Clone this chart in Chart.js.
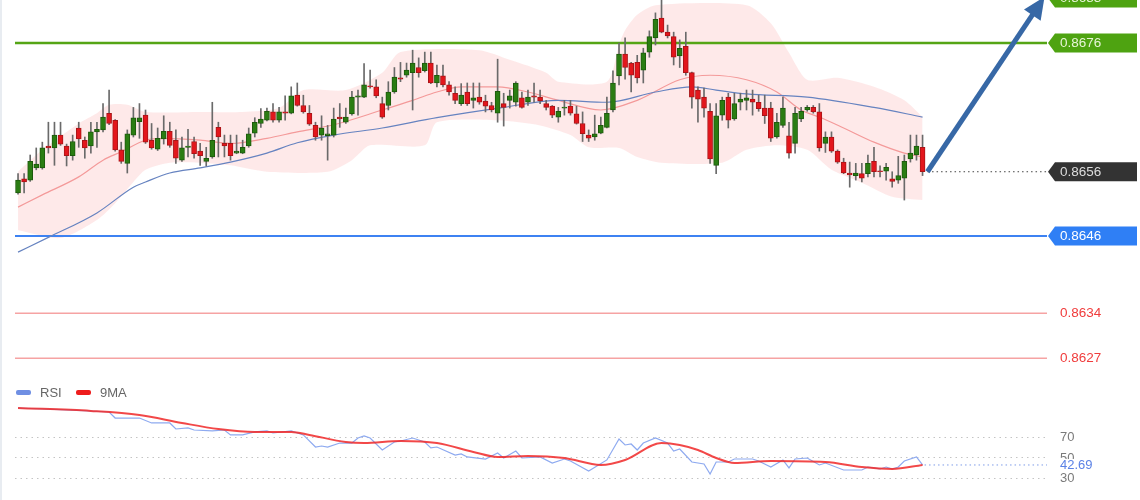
<!DOCTYPE html>
<html>
<head>
<meta charset="utf-8">
<script src="https://cdn.jsdelivr.net/npm/chart.js@4.4.1/dist/chart.umd.min.js"></script>
<style>
    html, body { margin: 0; padding: 0; background: #fff; }
    body { width: 1140px; height: 500px; overflow: hidden; position: relative; }
    #price-chart { position: absolute; left: 0; top: 0; }
    #rsi-chart { position: absolute; left: 0; top: 375px; }
    .edge { position: absolute; left: 0; top: 0; width: 2px; height: 500px; background: #e8ecf1; }
</style>
</head>
<body>
<canvas id="price-chart" width="1140" height="375"></canvas>
<canvas id="rsi-chart" width="1140" height="125"></canvas>
<div class="edge"></div>
<script>
// ---- data ----
const SLOTS = 170; // candle slots incl. empty space on the right

const opens = [
    .86527, .86549, .86547, .86566, .86566, .86600, .86597, .86617, .86600, .86585,
    .86628, .86609, .86600, .86622, .86625, .86651, .86640, .86594, .86573, .86617,
    .86638, .86648, .86609, .86595, .86611, .86623, .86609, .86578, .86598, .86607,
    .86592, .86576, .86583, .86629, .86604, .86604, .86589, .86589, .86600, .86620,
    .86635, .86640, .86653, .86640, .86653, .86651, .86679, .86663, .86651, .86632,
    .86617, .86616, .86617, .86645, .86637, .86650, .86676, .86676, .86693, .86692,
    .86666, .86663, .86684, .86706, .86710, .86714, .86722, .86717, .86729, .86698,
    .86709, .86695, .86682, .86666, .86684, .86671, .86676, .86670, .86663, .86651,
    .86666, .86671, .86668, .86675, .86668, .86678, .86676, .86666, .86662, .86645,
    .86659, .86662, .86650, .86635, .86617, .86614, .86620, .86629, .86656, .86709,
    .86743, .86729, .86730, .86718, .86746, .86768, .86799, .86777, .86770, .86740,
    .86755, .86714, .86687, .86676, .86654, .86570, .86648, .86676, .86642, .86668,
    .86671, .86673, .86668, .86659, .86659, .86614, .86632, .86616, .86604, .86642,
    .86656, .86660, .86653, .86604, .86614, .86592, .86575, .86558, .86554, .86557,
    .86557, .86576, .86561, .86561, .86549, .86547, .86550, .86580, .86586, .86598
];
const highs = [
    .86557, .86557, .86586, .86597, .86606, .86637, .86637, .86637, .86603, .86617,
    .86637, .86614, .86637, .86637, .86666, .86687, .86641, .86606, .86625, .86660,
    .86666, .86656, .86635, .86628, .86647, .86637, .86625, .86614, .86626, .86614,
    .86604, .86598, .86668, .86637, .86617, .86617, .86617, .86609, .86628, .86644,
    .86658, .86659, .86666, .86660, .86678, .86692, .86698, .86679, .86663, .86637,
    .86647, .86632, .86659, .86666, .86659, .86685, .86687, .86728, .86718, .86703,
    .86676, .86700, .86722, .86730, .86729, .86749, .86737, .86746, .86746, .86726,
    .86726, .86700, .86692, .86697, .86698, .86698, .86698, .86679, .86668, .86735,
    .86682, .86687, .86700, .86684, .86687, .86698, .86687, .86671, .86663, .86660,
    .86671, .86671, .86662, .86653, .86625, .86648, .86645, .86676, .86717, .86760,
    .86768, .86730, .86741, .86752, .86779, .86807, .86829, .86788, .86777, .86765,
    .86777, .86715, .86692, .86690, .86666, .86666, .86676, .86682, .86682, .86682,
    .86687, .86687, .86679, .86679, .86668, .86651, .86676, .86637, .86660, .86660,
    .86663, .86663, .86666, .86622, .86622, .86594, .86581, .86575, .86573, .86573,
    .86586, .86598, .86569, .86573, .86560, .86584, .86586, .86617, .86617, .86617
];
const lows = [
    .86525, .86527, .86545, .86563, .86564, .86589, .86570, .86601, .86569, .86578,
    .86598, .86581, .86589, .86598, .86622, .86633, .86592, .86573, .86558, .86614,
    .86612, .86604, .86595, .86593, .86603, .86598, .86573, .86576, .86583, .86581,
    .86570, .86569, .86581, .86583, .86583, .86578, .86588, .86588, .86598, .86614,
    .86629, .86639, .86637, .86637, .86640, .86650, .86662, .86651, .86632, .86609,
    .86609, .86578, .86614, .86629, .86635, .86648, .86648, .86675, .86690, .86675,
    .86643, .86656, .86682, .86700, .86707, .86656, .86707, .86715, .86697, .86692,
    .86692, .86679, .86666, .86663, .86663, .86659, .86665, .86653, .86653, .86637,
    .86631, .86659, .86662, .86659, .86663, .86668, .86666, .86656, .86644, .86637,
    .86648, .86648, .86634, .86607, .86607, .86609, .86619, .86628, .86653, .86695,
    .86704, .86684, .86698, .86698, .86738, .86757, .86776, .86768, .86726, .86722,
    .86710, .86659, .86637, .86645, .86573, .86557, .86640, .86628, .86640, .86656,
    .86656, .86648, .86654, .86635, .86607, .86612, .86629, .86581, .86589, .86638,
    .86654, .86651, .86592, .86590, .86590, .86573, .86557, .86536, .86547, .86544,
    .86552, .86552, .86552, .86547, .86536, .86542, .86516, .86575, .86578, .86554
];
const closes = [
    .86547, .86544, .86576, .86572, .86597, .86597, .86617, .86603, .86585, .86607,
    .86611, .86597, .86622, .86626, .86645, .86635, .86594, .86576, .86619, .86644,
    .86644, .86606, .86597, .86612, .86623, .86601, .86581, .86597, .86600, .86588,
    .86585, .86581, .86609, .86614, .86600, .86585, .86592, .86598, .86619, .86637,
    .86642, .86654, .86640, .86653, .86651, .86678, .86663, .86653, .86634, .86614,
    .86628, .86619, .86642, .86642, .86645, .86676, .86678, .86695, .86692, .86678,
    .86645, .86684, .86707, .86704, .86718, .86729, .86714, .86729, .86698, .86710,
    .86695, .86684, .86671, .86679, .86666, .86675, .86668, .86662, .86656, .86685,
    .86660, .86678, .86698, .86660, .86676, .86676, .86670, .86660, .86648, .86654,
    .86660, .86651, .86635, .86619, .86612, .86619, .86632, .86651, .86698, .86743,
    .86722, .86710, .86706, .86745, .86770, .86797, .86777, .86771, .86738, .86752,
    .86714, .86676, .86673, .86659, .86580, .86647, .86671, .86640, .86666, .86673,
    .86675, .86668, .86658, .86647, .86612, .86637, .86659, .86589, .86651, .86654,
    .86660, .86653, .86597, .86614, .86592, .86575, .86558, .86555, .86558, .86550,
    .86573, .86560, .86560, .86567, .86545, .86554, .86576, .86589, .86600, .86560
];

// Bollinger band and moving averages, [candle index, price]
const bbUpper = [[0, .86560], [4, .86594], [10, .86635], [13, .86651], [15, .86664], [18, .86664], [21, .86653],
    [30, .86653], [37, .86653], [43, .86659], [47, .86687], [54, .86687], [60, .86714], [63, .86746], [76, .86749],
    [81, .86734], [87, .86714], [89, .86700], [97, .86700], [99, .86757], [100, .86780], [102, .86804], [105, .86819],
    [120, .86819], [124, .86791], [127, .86745], [130, .86703], [135, .86706], [141, .86692], [146, .86671], [149, .86645]];
const bbLower = [[0, .86469], [7, .86457], [13, .86485], [16, .86511], [19, .86544], [21, .86563], [25, .86574],
    [30, .86574], [35, .86570], [41, .86560], [51, .86560], [55, .86578], [58, .86601], [67, .86601], [69, .86637],
    [79, .86640], [86, .86632], [91, .86617], [94, .86598], [99, .86597], [102, .86583], [106, .86574], [116, .86574],
    [120, .86594], [125, .86601], [130, .86594], [134, .86563], [139, .86543], [144, .86521], [149, .86516]];
const bbMiddle = [[0, .86505], [4, .86524], [10, .86552], [14, .86578], [17, .86591], [21, .86609], [24, .86612],
    [30, .86609], [35, .86604], [41, .86612], [46, .86622], [52, .86633], [60, .86656], [65, .86671], [69, .86684],
    [73, .86692], [79, .86692], [84, .86684], [89, .86671], [96, .86656], [102, .86671], [109, .86703], [114, .86710],
    [120, .86703], [125, .86684], [129, .86656], [132, .86645], [136, .86628], [141, .86606], [146, .86589], [149, .86583]];
const maSlow = [[0, .86435], [5, .86458], [13, .86496], [19, .86536], [21, .86544], [25, .86558], [30, .86566],
    [35, .86575], [41, .86589], [46, .86605], [52, .86617], [60, .86628], [69, .86644], [80, .86660], [89, .86671],
    [97, .86668], [105, .86684], [111, .86692], [115, .86687], [120, .86681], [130, .86676], [141, .86660], [149, .86645]];

// horizontal levels on the right
const priceLevels = [0.8683, 0.8676, 0.8656, 0.8646, 0.8634, 0.8627];
const levelKinds = ['resistance', 'resistance', 'last', 'support', 'minor', 'minor'];

// projected move (candle index, price)
const arrowFrom = [149.8, 0.8656];
const arrowTo = [169.1, 0.86832];

// RSI panel, [candle index, value]
const rsiValues = [[0, 98.3], [9, 96.3], [15, 94.4], [16, 88.5], [20, 88.5], [22, 83.7], [25, 83.7], [26, 77.8],
    [28, 78.8], [29, 76.8], [32, 75.9], [34, 76.8], [35, 72.0], [37, 72.0], [39, 74.9], [41, 75.9], [42, 73.9],
    [45, 75.9], [47, 72.0], [49, 60.2], [50, 61.2], [51, 60.2], [53, 64.1], [55, 64.1], [56, 69.0], [57, 71.0],
    [58, 69.0], [60, 57.3], [62, 65.1], [63, 66.1], [65, 69.0], [67, 65.1], [68, 59.3], [69, 60.2], [72, 52.4],
    [73, 53.4], [74, 50.5], [77, 48.5], [79, 54.4], [80, 49.5], [82, 56.3], [83, 49.5], [86, 50.5], [88, 44.6],
    [90, 48.5], [91, 46.6], [94, 36.8], [97, 47.6], [99, 68.0], [100, 62.2], [101, 63.2], [102, 57.3], [103, 64.1],
    [105, 69.0], [107, 64.1], [108, 56.3], [109, 58.3], [111, 45.6], [113, 43.7], [114, 33.9], [115, 45.6],
    [117, 45.6], [118, 48.5], [121, 48.5], [122, 46.6], [124, 40.7], [126, 47.6], [127, 39.8], [128, 48.5],
    [130, 49.5], [132, 42.7], [133, 44.6], [136, 37.8], [139, 37.8], [140, 40.7], [142, 38.8], [143, 40.7],
    [144, 38.8], [145, 40.7], [146, 46.6], [148, 50.5], [149, 42.69]];
const rsiMa = [[0, 98.3], [12, 95.4], [20, 91.5], [27, 83.7], [33, 77.8], [39, 74.9], [45, 74.9], [48, 72.0],
    [54, 65.1], [57, 64.1], [63, 66.1], [69, 64.1], [75, 55.4], [79, 50.5], [84, 51.5], [90, 49.5], [96, 42.7],
    [100, 47.6], [106, 64.1], [109, 62.2], [112, 57.3], [115, 49.5], [118, 44.6], [124, 46.6], [133, 45.6],
    [139, 40.7], [144, 38.8], [149, 42.7]];
const rsiLevels = [70, 50, 30];
const rsiLast = 42.69;

// ---- helpers ----
const slotLabels = Array.from({ length: SLOTS }, (_, i) => i);

function toSeries(pairs) {
    const out = new Array(SLOTS).fill(null);
    pairs.forEach(([i, v]) => { out[i] = v; });
    return out;
}

const FONT = '"Liberation Sans", Arial, sans-serif';
const GREEN = '#2a7d12', RED = '#e3161c';

const levelStyle = {
    resistance: { line: '#55a515', width: 2.5, tag: '#4ea311', text: '#e8f5d8' },
    last: { line: null, tag: '#333333', text: '#dddddd' },
    support: { line: '#3d82f2', width: 2, tag: '#2f7ff5', text: '#ffffff' },
    minor: { line: '#f6a3a3', width: 1.5, tag: null, text: '#f03c3c' }
};

function drawTag(ctx, x, y, w, h, fill) {
    ctx.beginPath();
    ctx.moveTo(x, y);
    ctx.lineTo(x + 7, y - h / 2);
    ctx.lineTo(x + w, y - h / 2);
    ctx.lineTo(x + w, y + h / 2);
    ctx.lineTo(x + 7, y + h / 2);
    ctx.closePath();
    ctx.fillStyle = fill;
    ctx.fill();
}

// Level lines sit above the band fill but under the candles
const priceOverlay = {
    id: 'priceOverlay',
    afterDatasetDraw(chart, args) {
        if (args.index !== 1) return;
        const { ctx, chartArea, scales } = chart;
        ctx.save();
        priceLevels.forEach((p, i) => {
            const st = levelStyle[levelKinds[i]];
            if (!st.line) return;
            const y = scales.y.getPixelForValue(p);
            ctx.strokeStyle = st.line;
            ctx.lineWidth = st.width;
            ctx.beginPath();
            ctx.moveTo(chartArea.left, y);
            ctx.lineTo(chartArea.right, y);
            ctx.stroke();
        });
        ctx.restore();
    },
    afterDatasetsDraw(chart) {
        const { ctx, chartArea, scales } = chart;
        ctx.save();
        // dotted line from the last candle to its price tag
        const lastIdx = closes.length - 1;
        const yLast = scales.y.getPixelForValue(closes[lastIdx]);
        ctx.strokeStyle = '#444';
        ctx.lineWidth = 1;
        ctx.setLineDash([1.5, 3]);
        ctx.beginPath();
        ctx.moveTo(scales.x.getPixelForValue(lastIdx) + 5, yLast);
        ctx.lineTo(chartArea.right, yLast);
        ctx.stroke();
        ctx.setLineDash([]);

        // arrow
        const x1 = scales.x.getPixelForValue(arrowFrom[0]), y1 = scales.y.getPixelForValue(arrowFrom[1]);
        const x2 = scales.x.getPixelForValue(arrowTo[0]), y2 = scales.y.getPixelForValue(arrowTo[1]);
        const len = Math.hypot(x2 - x1, y2 - y1);
        const ux = (x2 - x1) / len, uy = (y2 - y1) / len;
        const headLen = 22, headHalf = 10;
        ctx.strokeStyle = '#3768a6';
        ctx.fillStyle = '#3768a6';
        ctx.lineWidth = 5;
        ctx.beginPath();
        ctx.moveTo(x1, y1);
        ctx.lineTo(x2 - ux * headLen * 0.8, y2 - uy * headLen * 0.8);
        ctx.stroke();
        const bx = x2 - ux * headLen, by = y2 - uy * headLen;
        ctx.beginPath();
        ctx.moveTo(x2, y2);
        ctx.lineTo(bx - uy * headHalf, by + ux * headHalf);
        ctx.lineTo(bx + uy * headHalf, by - ux * headHalf);
        ctx.closePath();
        ctx.fill();
        ctx.restore();
    },
    afterDraw(chart) {
        const { ctx, chartArea, scales } = chart;
        ctx.save();
        ctx.font = '13.5px ' + FONT;
        ctx.textBaseline = 'middle';
        priceLevels.forEach((p, i) => {
            const st = levelStyle[levelKinds[i]];
            const y = scales.y.getPixelForValue(p);
            if (st.tag) drawTag(ctx, chartArea.right + 1, y, 89, 19, st.tag);
            ctx.fillStyle = st.text;
            ctx.fillText(p.toFixed(4), chartArea.right + 13, y + 0.5);
        });
        ctx.restore();
    }
};

new Chart(document.getElementById('price-chart').getContext('2d'), {
    type: 'bar',
    data: {
        labels: slotLabels,
        datasets: [
            {
                type: 'line', label: 'BB upper', data: toSeries(bbUpper),
                borderColor: 'transparent', borderWidth: 0, pointRadius: 0,
                spanGaps: true, tension: 0.25, fill: false, order: 10
            },
            {
                type: 'line', label: 'BB lower', data: toSeries(bbLower),
                borderColor: 'transparent', borderWidth: 0, pointRadius: 0,
                spanGaps: true, tension: 0.25, fill: '-1',
                backgroundColor: 'rgba(250, 170, 170, 0.26)', order: 9
            },
            {
                type: 'line', label: 'BB middle', data: toSeries(bbMiddle),
                borderColor: '#f49a9a', borderWidth: 1.2, pointRadius: 0,
                spanGaps: true, cubicInterpolationMode: 'monotone', order: 5
            },
            {
                type: 'line', label: 'MA', data: toSeries(maSlow),
                borderColor: '#6683c0', borderWidth: 1.2, pointRadius: 0,
                spanGaps: true, cubicInterpolationMode: 'monotone', order: 4
            },
            {
                label: 'Wicks', data: lows.map((l, i) => [l, highs[i]]),
                backgroundColor: '#6a6a6a', barThickness: 1, grouped: false, order: 2
            },
            {
                label: 'Bodies', data: opens.map((o, i) => [o, closes[i]]),
                backgroundColor: closes.map((c, i) => c >= opens[i] ? GREEN : RED),
                borderColor: closes.map((c, i) => c >= opens[i] ? '#1d5a0c' : '#a81417'),
                borderWidth: 1, borderSkipped: false, barThickness: 5, minBarLength: 1,
                grouped: false, order: 1
            }
        ]
    },
    options: {
        responsive: false,
        animation: false,
        layout: { padding: { left: 15, right: 93, top: 0, bottom: 0 } },
        plugins: { legend: { display: false }, tooltip: { enabled: false } },
        scales: {
            x: { type: 'category', offset: true, display: false },
            y: { min: 0.86244, max: 0.86827, display: false }
        }
    },
    plugins: [priceOverlay]
});

// ---- RSI panel ----
const rsiOverlay = {
    id: 'rsiOverlay',
    beforeDatasetsDraw(chart) {
        const { ctx, chartArea, scales } = chart;
        ctx.save();
        ctx.strokeStyle = '#c4c4c4';
        ctx.lineWidth = 1;
        ctx.setLineDash([1.5, 4]);
        rsiLevels.forEach(v => {
            const y = Math.round(scales.y.getPixelForValue(v)) + 0.5;
            ctx.beginPath();
            ctx.moveTo(chartArea.left, y);
            ctx.lineTo(chartArea.right, y);
            ctx.stroke();
        });
        ctx.restore();
    },
    afterDraw(chart) {
        const { ctx, chartArea, scales } = chart;
        ctx.save();
        ctx.font = '13px ' + FONT;
        ctx.textBaseline = 'middle';
        ctx.fillStyle = '#7a7a7a';
        rsiLevels.forEach(v => {
            ctx.fillText(String(v), chartArea.right + 13, scales.y.getPixelForValue(v) + 0.5);
        });

        // last RSI value
        const yLast = scales.y.getPixelForValue(rsiLast);
        ctx.strokeStyle = '#7d9be8';
        ctx.lineWidth = 1;
        ctx.setLineDash([1.5, 3]);
        ctx.beginPath();
        ctx.moveTo(scales.x.getPixelForValue(rsiValues[rsiValues.length - 1][0]) + 2, yLast);
        ctx.lineTo(chartArea.right, yLast);
        ctx.stroke();
        ctx.setLineDash([]);
        ctx.fillStyle = '#ffffff';
        ctx.fillRect(chartArea.right + 10, yLast - 6, 42, 13);
        ctx.fillStyle = '#5b82e6';
        ctx.fillText(rsiLast.toFixed(2), chartArea.right + 13, yLast + 0.5);

        // legend
        const items = [['RSI', '#6f8fe3', 16], ['9MA', '#ee1c1c', 76]];
        items.forEach(([name, color, x]) => {
            ctx.fillStyle = color;
            ctx.beginPath();
            ctx.roundRect(x, 15, 15, 5, 2);
            ctx.fill();
            ctx.fillStyle = '#666666';
            ctx.fillText(name, x + 24, 18);
        });
        ctx.restore();
    }
};

new Chart(document.getElementById('rsi-chart').getContext('2d'), {
    type: 'line',
    data: {
        labels: slotLabels,
        datasets: [
            {
                label: '9MA', data: toSeries(rsiMa), borderColor: 'rgba(240, 40, 40, 0.85)',
                borderWidth: 2, pointRadius: 0, spanGaps: true,
                cubicInterpolationMode: 'monotone', order: 1
            },
            {
                label: 'RSI', data: toSeries(rsiValues), borderColor: '#8eaaf0',
                borderWidth: 1.2, pointRadius: 0, spanGaps: true, tension: 0, order: 2
            }
        ]
    },
    options: {
        responsive: false,
        animation: false,
        layout: { padding: { left: 15, right: 93, top: 0, bottom: 0 } },
        plugins: { legend: { display: false }, tooltip: { enabled: false } },
        scales: {
            x: { type: 'category', offset: true, display: false },
            y: { min: 8.5, max: 130.5, display: false }
        }
    },
    plugins: [rsiOverlay]
});
</script>
</body>
</html>
